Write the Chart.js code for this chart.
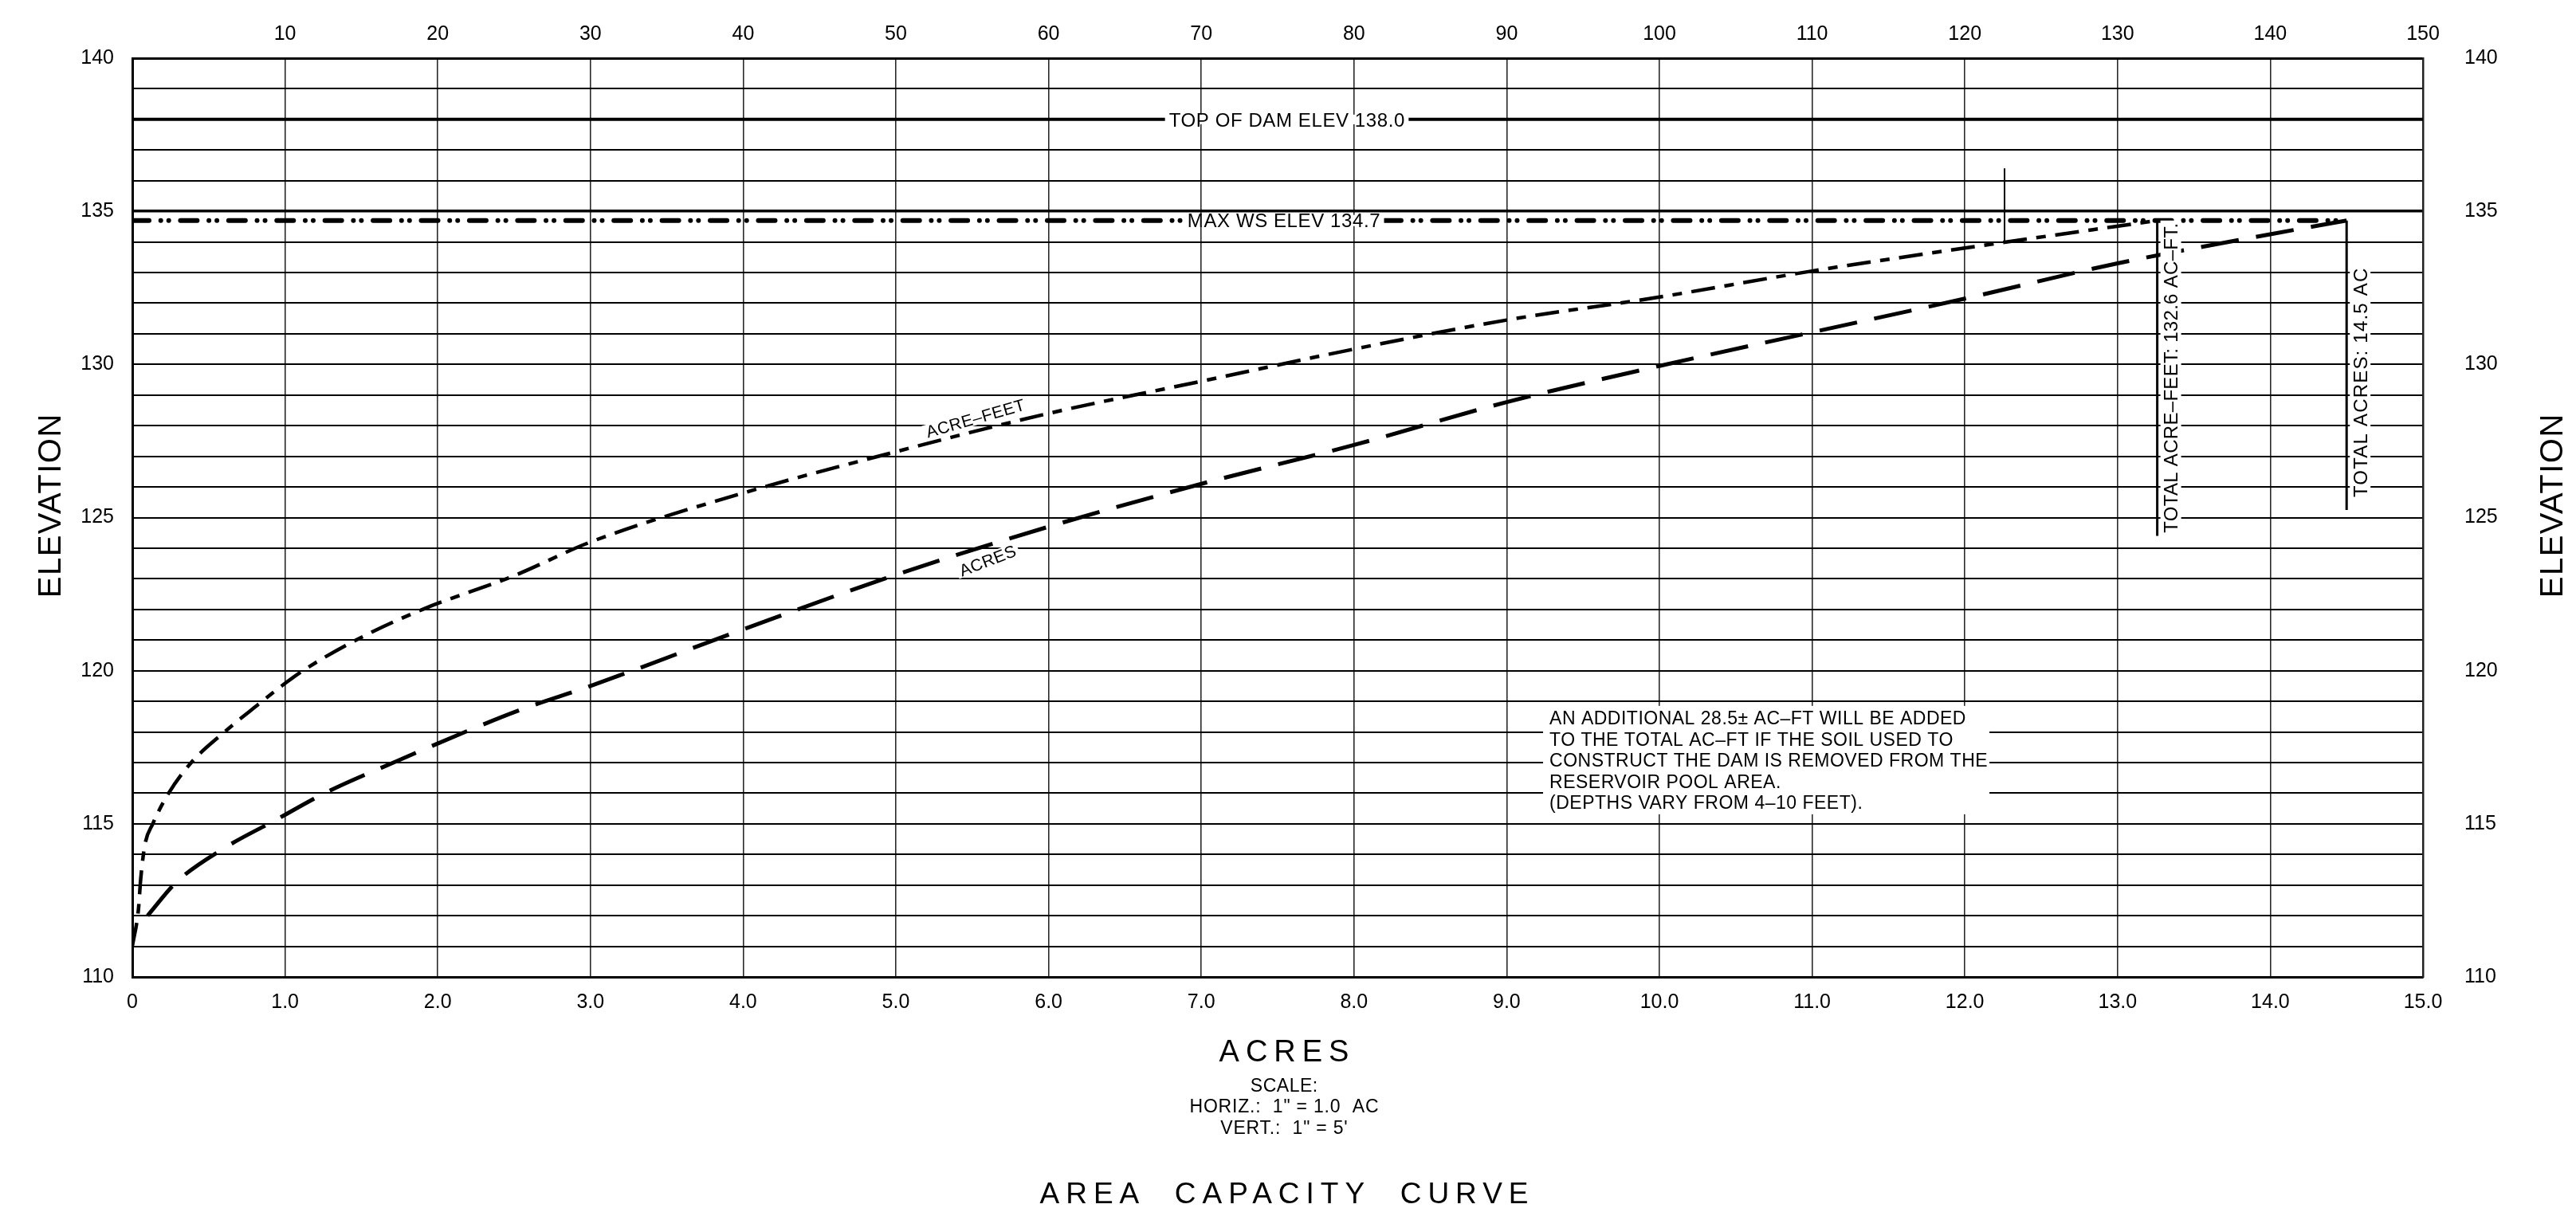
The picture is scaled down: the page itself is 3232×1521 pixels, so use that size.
<!DOCTYPE html>
<html><head><meta charset="utf-8">
<script src="https://cdn.jsdelivr.net/npm/chart.js@4.4.0/dist/chart.umd.min.js"></script>
<style>html,body{margin:0;padding:0;background:#fff;overflow:hidden}#wrap{width:3232px;height:1521px}</style>
</head><body><div id="wrap"><canvas id="c" width="3232" height="1521"></canvas></div>
<script>
// ---- data ----
// ACRES curve (bottom axis, acres) vs elevation
const acresX    = [0.1, 0.29, 0.6, 0.93, 1.26, 1.71, 2.18, 2.53, 3.0, 4.0, 5.0, 6.0, 7.0, 8.0, 9.0, 10.0, 11.0, 12.0, 13.0, 14.0, 14.5];
const acresElev = [112.0, 113.1, 114.2, 115.1, 116.0, 117.0, 118.0, 118.7, 119.5, 121.35, 123.13, 124.7, 126.1, 127.37, 128.77, 129.95, 131.05, 132.15, 133.3, 134.25, 134.7];
// ACRE-FEET curve (top axis, acre-feet) vs elevation
const acreFeetX    = [0, 0.4, 0.55, 0.82, 1.34, 2.38, 3.86, 6.04, 8.0, 10.04, 11.17, 14.65, 19.0, 25, 30, 40, 50, 60, 70, 80, 90, 100, 110, 120, 132.6];
const acreFeetElev = [111.0, 112.2, 113.2, 114.3, 115.0, 116.0, 117.0, 118.0, 118.8, 119.6, 120.0, 121.0, 122.0, 123.1, 124.2, 125.8, 127.15, 128.4, 129.45, 130.5, 131.45, 132.2, 133.05, 133.8, 134.7];
// reference elevations and totals
const topOfDamElev = 138.0;
const maxWsElev = 134.7;
const totalAcres = 14.5;
const totalAcreFeet = 132.6;
const leaderBottomElev = [124.4, 125.25];      // bottoms of the two "TOTAL" leader lines (AF, AC)
const markerAcreFeet = 122.6;                   // short vertical mark above the AF curve
const markerElev = [136.4, 134.0];
// tick labels
const elevTickLabels = [110, 115, 120, 125, 130, 135, 140];
const acreTickLabels = ['0','1.0','2.0','3.0','4.0','5.0','6.0','7.0','8.0','9.0','10.0','11.0','12.0','13.0','14.0','15.0'];
const acreFeetTickLabels = ['', '10','20','30','40','50','60','70','80','90','100','110','120','130','140','150'];

const FONT = '"Liberation Sans", Arial, sans-serif';
const pts = (xs, ys) => xs.map((v, i) => ({x: v, y: ys[i]}));

function drawText(ctx, s, cx, cy, o) {
  const size = o.size, ls = o.ls || 0;
  ctx.save();
  ctx.translate(cx, cy);
  if (o.rot) ctx.rotate(o.rot * Math.PI / 180);
  ctx.font = `${size}px ${FONT}`;
  ctx.letterSpacing = ls + 'px';
  const w = ctx.measureText(s).width - ls;
  const x0 = o.align === 'left' ? 0 : -w / 2;
  if (o.bg) {
    ctx.fillStyle = '#fff';
    ctx.fillRect(x0 - o.bg[0], -o.bg[1], w + 2 * o.bg[0], 2 * o.bg[1]);
  }
  ctx.fillStyle = '#000';
  ctx.textBaseline = 'alphabetic';
  ctx.textAlign = 'left';
  ctx.fillText(s, x0, size * 0.36);
  ctx.restore();
}

const annotations = {
  id: 'annotations',
  afterDatasetsDraw(chart) {
    const ctx = chart.ctx;
    const {x, x2, y} = chart.scales;
    // reference-line labels
    drawText(ctx, 'TOP OF DAM ELEV 138.0', x.getPixelForValue(7.56), y.getPixelForValue(topOfDamElev), {size: 24, ls: 0.6, bg: [5, 6]});
    drawText(ctx, 'MAX WS ELEV 134.7', x.getPixelForValue(7.54), y.getPixelForValue(maxWsElev), {size: 24, ls: 0.6, bg: [5, 7]});
    // totals (rotated)
    drawText(ctx, 'TOTAL ACRE–FEET: 132.6 AC–FT.', x2.getPixelForValue(totalAcreFeet) + 17, y.getPixelForValue(129.56), {size: 24, ls: 0.3, rot: -90, bg: [3, 13]});
    drawText(ctx, 'TOTAL ACRES: 14.5 AC', x.getPixelForValue(totalAcres) + 17, y.getPixelForValue(129.4), {size: 24, ls: 1.2, rot: -90, bg: [3, 13]});
    // curve labels
    drawText(ctx, 'ACRE–FEET', x.getPixelForValue(5.52), y.getPixelForValue(128.25), {size: 21, ls: 0.5, rot: -16, bg: [4, 9]});
    drawText(ctx, 'ACRES', x.getPixelForValue(5.6), y.getPixelForValue(123.6), {size: 21, ls: 0.5, rot: -21, bg: [4, 9]});
    // note box
    const nx = x.getPixelForValue(9.28), ny = y.getPixelForValue(118.46);
    ctx.fillStyle = '#fff';
    ctx.fillRect(nx - 8, ny - 15, 560, 136);
    const note = ['AN ADDITIONAL 28.5± AC–FT WILL BE ADDED',
                  'TO THE TOTAL AC–FT IF THE SOIL USED TO',
                  'CONSTRUCT THE DAM IS REMOVED FROM THE',
                  'RESERVOIR POOL AREA.',
                  '(DEPTHS VARY FROM 4–10 FEET).'];
    note.forEach((s, i) => drawText(ctx, s, nx, ny + i * 26.5, {size: 23, ls: 0.5, align: 'left'}));
  },
  afterDraw(chart) {
    const ctx = chart.ctx;
    drawText(ctx, 'ELEVATION', 62, 635, {size: 40, ls: 1.5, rot: -90});
    drawText(ctx, 'ELEVATION', 3201, 635, {size: 40, ls: 1.5, rot: -90});
    drawText(ctx, 'ACRES', 1611, 1318, {size: 38, ls: 8});
    drawText(ctx, 'SCALE:', 1611, 1362, {size: 23, ls: 0.5});
    drawText(ctx, 'HORIZ.:  1" = 1.0  AC', 1611, 1388, {size: 23, ls: 0.8});
    drawText(ctx, "VERT.:  1\" = 5'", 1611, 1415, {size: 23, ls: 0.8});
    drawText(ctx, 'AREA  CAPACITY  CURVE', 1611, 1497, {size: 37, ls: 8});
  }
};

const tickFont = {family: FONT, size: 25};

new Chart(document.getElementById('c'), {
  type: 'scatter',
  data: {
    datasets: [
      {label: 'ACRES', data: pts(acresX, acresElev), xAxisID: 'x', yAxisID: 'y', showLine: true,
       borderColor: '#000', borderWidth: 5, borderDash: [48, 22], pointRadius: 0, cubicInterpolationMode: 'monotone'},
      {label: 'ACRE-FEET', data: pts(acreFeetX, acreFeetElev), xAxisID: 'x2', yAxisID: 'y', showLine: true,
       borderColor: '#000', borderWidth: 4.5, borderDash: [30, 12, 12, 12], pointRadius: 0, cubicInterpolationMode: 'monotone'},
      {label: 'TOP OF DAM', data: [{x: 0, y: topOfDamElev}, {x: 15, y: topOfDamElev}], xAxisID: 'x', yAxisID: 'y', showLine: true,
       borderColor: '#000', borderWidth: 4, pointRadius: 0},
      {label: 'MAX WS', data: [{x: 0, y: maxWsElev}, {x: totalAcres, y: maxWsElev}], xAxisID: 'x', yAxisID: 'y', showLine: true,
       borderColor: '#000', borderWidth: 6, borderCapStyle: 'round', borderDash: [21, 14.7, 0.01, 10, 0.01, 14.7], pointRadius: 0},
      {label: 'TOTAL AF', data: [{x: totalAcreFeet, y: maxWsElev}, {x: totalAcreFeet, y: leaderBottomElev[0]}], xAxisID: 'x2', yAxisID: 'y', showLine: true,
       borderColor: '#000', borderWidth: 3, pointRadius: 0},
      {label: 'TOTAL AC', data: [{x: totalAcres, y: maxWsElev}, {x: totalAcres, y: leaderBottomElev[1]}], xAxisID: 'x', yAxisID: 'y', showLine: true,
       borderColor: '#000', borderWidth: 3, pointRadius: 0},
      {label: 'MARK', data: [{x: markerAcreFeet, y: markerElev[0]}, {x: markerAcreFeet, y: markerElev[1]}], xAxisID: 'x2', yAxisID: 'y', showLine: true,
       borderColor: '#000', borderWidth: 2, pointRadius: 0}
    ]
  },
  options: {
    responsive: false, animation: false, devicePixelRatio: 1, events: [],
    layout: {padding: 0},
    plugins: {legend: {display: false}, tooltip: {enabled: false}, title: {display: false}},
    scales: {
      x: {type: 'linear', position: 'bottom', min: 0, max: 15,
          afterFit: s => { s.height = 295; },
          ticks: {stepSize: 1, autoSkip: false, maxRotation: 0, color: '#000', font: tickFont, padding: 17,
                  callback: v => acreTickLabels[Math.round(v)] ?? ''},
          grid: {color: '#2a2a2a', lineWidth: 1.6, drawTicks: false},
          border: {display: true, color: '#000', width: 3}},
      x2: {type: 'linear', position: 'top', min: 0, max: 150,
           afterFit: s => { s.height = 73; },
           ticks: {stepSize: 10, autoSkip: false, maxRotation: 0, color: '#000', font: tickFont, padding: 15,
                   callback: v => acreFeetTickLabels[Math.round(v / 10)] ?? ''},
           grid: {display: false, drawTicks: false},
           border: {display: true, color: '#000', width: 3}},
      y: {type: 'linear', position: 'left', min: 110, max: 140,
          afterFit: s => { s.width = 166; },
          ticks: {stepSize: 1, autoSkip: false, color: '#000', font: tickFont, padding: 23,
                  callback: v => elevTickLabels.includes(v) ? String(v) : ''},
          grid: {color: '#000', lineWidth: c => (c.tick && c.tick.value === 135) ? 3.5 : 2, drawTicks: false},
          border: {display: true, color: '#000', width: 3}},
      y2: {type: 'linear', position: 'right', min: 110, max: 140,
           afterFit: s => { s.width = 192; },
           ticks: {stepSize: 1, autoSkip: false, color: '#000', font: tickFont, padding: 52,
                   callback: v => elevTickLabels.includes(v) ? String(v) : ''},
           grid: {display: false, drawTicks: false},
           border: {display: true, color: '#222', width: 2.5}}
    }
  },
  plugins: [annotations]
});
</script></body></html>
